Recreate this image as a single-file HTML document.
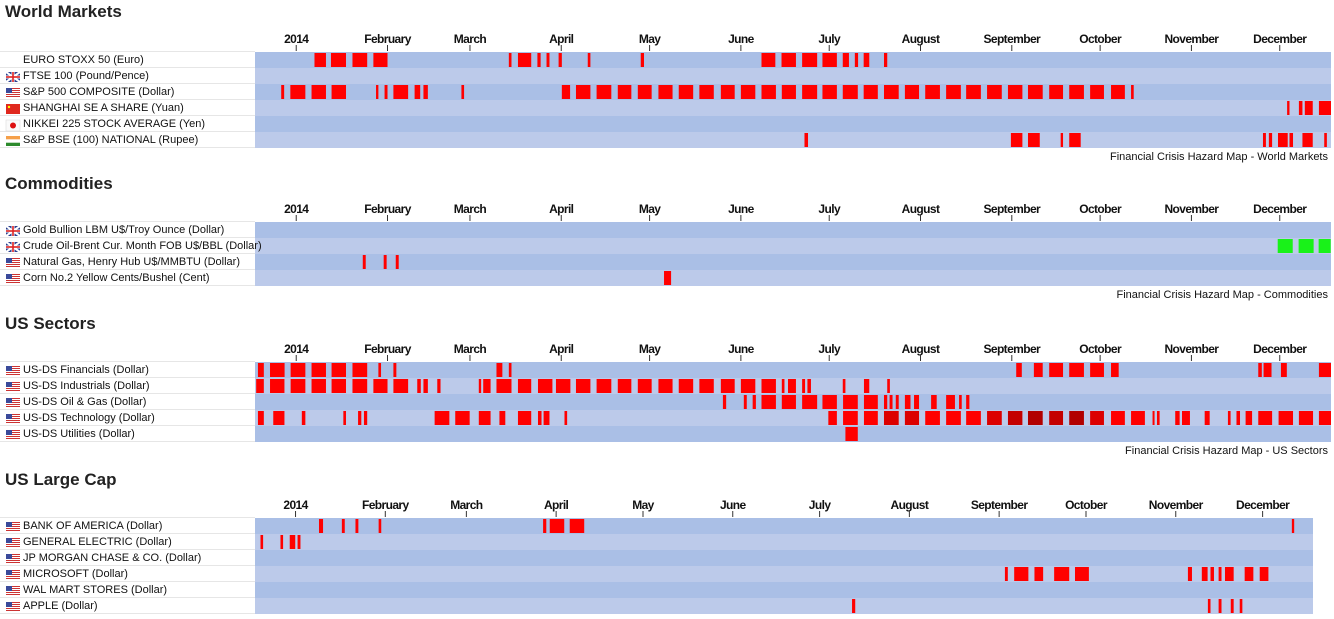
<!DOCTYPE html>
<html><head><meta charset="utf-8"><style>
html,body{margin:0;padding:0;background:#fff;width:1334px;height:619px;overflow:hidden}
svg{display:block;font-family:"Liberation Sans",Arial,sans-serif}
</style></head><body>
<svg id="chart" width="1334" height="619"></svg>
<script>
// ---- axis tick data ----
const monthTicks = [0,31,59,90,120,151,181,212,243,273,304,334];
const monthLabels = ["2014","February","March","April","May","June","July","August","September","October","November","December"];
const dayDomain = [-14, 351.4];

// ---- World Markets ----
const wmNames = ["EURO STOXX 50 (Euro)","FTSE 100 (Pound/Pence)","S&P 500 COMPOSITE (Dollar)","SHANGHAI SE A SHARE (Yuan)","NIKKEI 225 STOCK AVERAGE (Yen)","S&P BSE (100) NATIONAL (Rupee)"];
const wmFlags = ["none","uk","us","cn","jp","in"];
const wmEuro = [[6.2,10.1],[11.8,16.9],[19.1,24.1],[26.2,31],[72.2,73.1],[75.3,79.8],[81.9,83],[85,86],[89.1,90.2],[99,99.9],[117,118.1],[158,162.7],[164.8,169.7],[171.8,176.9],[178.7,183.6],[185.6,187.7],[189.7,190.8],[192.7,194.6],[199.6,200.7]];
const wmFtse = [];
const wmSp500 = [[-5.1,-4.1],[-2,3.1],[5.2,10.1],[12,16.9],[27.1,27.9],[30,31],[33,38],[40.2,42.1],[43.2,44.7],[56.1,57],[90.2,93],[95,99.9],[102,107],[109.2,113.8],[116,120.7],[123,127.8],[129.9,134.8],[136.9,141.8],[144.2,148.9],[151,155.9],[158,162.9],[164.9,169.7],[171.8,176.9],[178.7,183.6],[185.6,190.7],[192.7,197.5],[199.6,204.6],[206.7,211.5],[213.6,218.6],[220.7,225.7],[227.5,232.5],[234.6,239.6],[241.7,246.6],[248.5,253.5],[255.7,260.4],[262.5,267.5],[269.6,274.3],[276.7,281.4],[283.5,284.4]];
const wmShanghai = [[336.5,337.3],[340.5,341.7],[342.5,345.2],[347.3,351.5]];
const wmNikkei = [];
const wmBse = [[172.6,173.8],[242.7,246.6],[248.5,252.5],[259.6,260.4],[262.5,266.4],[328.3,329.3],[330.3,331.4],[333.4,336.7],[337.3,338.5],[341.7,345.2],[349.1,350]];

// ---- Commodities ----
const coNames = ["Gold Bullion LBM U$/Troy Ounce (Dollar)","Crude Oil-Brent Cur. Month FOB U$/BBL (Dollar)","Natural Gas, Henry Hub U$/MMBTU (Dollar)","Corn No.2 Yellow Cents/Bushel (Cent)"];
const coFlags = ["uk","uk","us","us"];
const coGold = [];
const coCrude = [[333.3,338.4],[340.4,345.5],[347.2,351.3]];
const coGas = [[22.6,23.6],[29.7,30.7],[33.8,34.8]];
const coCorn = [[124.9,127.3]];

// ---- US Sectors ----
const usNames = ["US-DS Financials (Dollar)","US-DS Industrials (Dollar)","US-DS Oil & Gas (Dollar)","US-DS Technology (Dollar)","US-DS Utilities (Dollar)"];
const usFlags = ["us","us","us","us","us"];
const usFin = [[-13,-11],[-8.9,-3.95],[-1.9,3.1],[5.2,10.1],[12,16.9],[19.1,24.1],[27.9,28.8],[33,34],[68,70],[72.2,73.1],[244.5,246.4],[250.5,253.5],[255.7,260.4],[262.5,267.5],[269.6,274.3],[276.7,279.3],[326.7,327.9],[328.5,331.2],[334.4,336.4],[347.3,351.5]];
const usInd = [[-13.6,-11],[-8.9,-4],[-1.9,3.1],[5.2,10.1],[12,16.9],[19.1,24.1],[26.2,31],[33,38],[41.1,42.3],[43.2,44.7],[47.9,49],[62,62.8],[63.5,66],[68,73.1],[75.3,79.8],[82.1,87],[88.2,93.1],[95,99.9],[102,107],[109.2,113.8],[116,120.7],[123,127.8],[129.9,134.8],[136.9,141.8],[144.2,148.9],[151,155.9],[158,162.9],[164.9,165.8],[167,169.7],[171.8,172.8],[173.6,174.8],[185.6,186.5],[192.8,194.6],[200.7,201.6]];
const usOil = [[144.9,146],[152,153],[155,156.1],[158,162.9],[164.9,169.7],[171.8,176.9],[178.7,183.6],[185.7,190.7],[192.8,197.5],[199.6,200.7],[201.5,202.5],[203.6,204.6],[206.7,208.6],[209.8,211.5],[215.6,217.5],[220.7,223.7],[225.1,226],[227.5,228.6]];
const usTech = [[-13,-11],[-7.8,-4],[1.9,3.1],[16,16.9],[21,22.1],[23,24.1],[47,52],[54,58.9],[62,66],[69,71],[75.3,79.8],[82.1,83.3],[84,86],[91.1,92],[180.7,183.6],[185.7,190.7],[192.8,197.5],[199.6,204.6],[206.7,211.5],[213.6,218.6],[220.7,225.7],[227.5,232.5],[234.6,239.6],[241.7,246.6],[248.5,253.5],[255.7,260.4],[262.5,267.5],[269.6,274.3],[276.7,281.4],[283.5,288.2],[290.8,291.4],[292.3,293.2],[298.5,300],[300.8,303.5],[308.5,310.2],[316.4,317.3],[319.3,320.5],[322.4,324.6],[326.7,331.4],[333.6,338.5],[340.5,345.3],[347.3,351.5]];
const usTechLevel = [1,1,1,1,1,1,1,1,1,1,1,1,1,1,1,1,1,2,2,1,1,1,2,3,4,3,4,2,1,1,1,1,1,1,1,1,1,1,1,1,1,1];
const usUtil = [[186.5,190.7]];

// ---- US Large Cap ----
const lcNames = ["BANK OF AMERICA (Dollar)","GENERAL ELECTRIC (Dollar)","JP MORGAN CHASE & CO. (Dollar)","MICROSOFT (Dollar)","WAL MART STORES (Dollar)","APPLE (Dollar)"];
const lcFlags = ["us","us","us","us","us","us"];
const lcBac = [[8.1,9.5],[16,17],[20.7,21.7],[28.7,29.6],[85.5,86.6],[87.8,92.8],[94.7,99.7],[344.1,344.9]];
const lcGe = [[-12.1,-11.2],[-5.2,-4.3],[-2,-0.1],[0.7,1.7]];
const lcJpm = [];
const lcMsft = [[245,246],[248.2,253.1],[255.2,258.2],[262,267.2],[269.2,274],[308.2,309.6],[313,315],[316,317.2],[318.8,319.8],[321,324],[327.8,330.8],[333,336]];
const lcWmt = [];
const lcAapl = [[192.2,193.3],[315.1,316],[318.8,319.8],[323,324],[326.1,327]];

const NS = "http://www.w3.org/2000/svg";
const svg = document.getElementById('chart');
function mk(tag, attrs, parent){ const e=document.createElementNS(NS,tag); for(const k in attrs) e.setAttribute(k,attrs[k]); (parent||svg).appendChild(e); return e; }
function slug(s){ return s.toLowerCase().replace(/[^a-z0-9]+/g,'-').replace(/^-|-$/g,''); }

function flag(g, type, x, y){
  if(type==='none') return;
  const f = mk('g',{transform:`translate(${x},${y})`},g);
  
  
  if(type==='uk'){
    mk('rect',{x:0,y:0,width:14,height:10,fill:'#2a3f8f'},f);
    mk('path',{d:'M0 0L14 10M14 0L0 10',stroke:'#fff','stroke-width':2},f);
    mk('rect',{x:5.5,y:0,width:3,height:10,fill:'#fff'},f);
    mk('rect',{x:0,y:3.5,width:14,height:3,fill:'#fff'},f);
    mk('rect',{x:6.2,y:0,width:1.6,height:10,fill:'#d22'},f);
    mk('rect',{x:0,y:4.2,width:14,height:1.6,fill:'#d22'},f);
  } else if(type==='us'){
    mk('rect',{x:0,y:0,width:14,height:10,fill:'#fff'},f);
    for(let i=0;i<5;i++) mk('rect',{x:0,y:i*2,width:14,height:1,fill:'#c33'},f);
    mk('rect',{x:0,y:0,width:6,height:5,fill:'#3a4a9a'},f);
  } else if(type==='cn'){
    mk('rect',{x:0,y:0,width:14,height:10,fill:'#e0281e'},f);
    mk('circle',{cx:3,cy:3,r:1.2,fill:'#ff0'},f);
  } else if(type==='jp'){
    mk('rect',{x:0,y:0,width:14,height:11,fill:'#fafafa',stroke:'#ddd','stroke-width':0.6},f);
    mk('circle',{cx:7,cy:5.5,r:3,fill:'#d11'},f);
  } else if(type==='in'){
    mk('rect',{x:0,y:0,width:14,height:3.4,fill:'#f5a04a'},f);
    mk('rect',{x:0,y:3.4,width:14,height:3.3,fill:'#fff'},f);
    mk('rect',{x:0,y:6.7,width:14,height:3.3,fill:'#2c8a2c'},f);
  }
}

function levelColor(v){ return ['#ff0000','#ff0000','#dc0000','#c40000','#b20000'][v]||'#ff0000'; }

function panel(opts){
  const g = mk('g',{});
  
  
  const x0=255, x1=opts.right;
  const xs = d => x0 + (d-dayDomain[0])/(dayDomain[1]-dayDomain[0])*(x1-x0);
  const t = mk('text',{x:5,y:opts.titleY,'font-size':17,'font-weight':'bold',fill:'#222'},g);
  t.textContent = opts.title;
  
  
  const rowTop = opts.rowY, rh=16;
  // ticks
  monthTicks.forEach((d,i)=>{
    const x = xs(d);
    const lab = mk('text',{x:x,y:rowTop-9,'font-size':12,'font-weight':'bold','text-anchor':i===0?'middle':'start',fill:'#111','letter-spacing':'-0.6'},g);
    lab.textContent = monthLabels[i];
    
    
    if(i>0){ const w = lab.getComputedTextLength(); lab.setAttribute('x', x - w/2 + (opts.labShift||0)); }
    const tk = mk('line',{x1:x,x2:x,y1:rowTop-7,y2:rowTop-1,stroke:'#333','stroke-width':1},g);
    
    
  });
  mk('line',{x1:0,x2:x0,y1:rowTop-0.5,y2:rowTop-0.5,stroke:'#e6e6e6'},g);
  opts.rows.forEach((bars,r)=>{
    const y = rowTop + r*rh;
    const band = mk('rect',{x:x0,y:y,width:x1-x0,height:rh,fill:r%2?'#bccaea':'#aabfe6'},g);
    
    
    mk('line',{x1:0,x2:x0,y1:y+rh-0.5,y2:y+rh-0.5,stroke:'#e6e6e6'},g);
    flag(g, opts.flags[r], 6, y+4);
    const lt = mk('text',{x:23,y:y+11,'font-size':11,fill:'#111'},g);
    lt.textContent = opts.names[r];
    
    
    bars.forEach((b,k)=>{
      const bx = Math.max(xs(b[0]), x0), bw = Math.min(xs(b[1]), x1) - bx;
      const lv = opts.levels && opts.levels[r] ? opts.levels[r][k] : 1;
      const rc = mk('rect',{x:bx,y:y+1,width:Math.max(bw,2),height:rh-2,fill:opts.color && opts.color[r] ? opts.color[r] : levelColor(lv)},g);
      
      
    });
  });
  if(opts.foot){
    const ft = mk('text',{x:1328,y:rowTop+opts.rows.length*rh+12,'font-size':11,'text-anchor':'end',fill:'#111'},g);
    ft.textContent = opts.foot;
    
    
  }
}

panel({id:'world-markets',title:'World Markets',titleY:17,rowY:52,right:1331,names:wmNames,flags:wmFlags,
  rows:[wmEuro,wmFtse,wmSp500,wmShanghai,wmNikkei,wmBse],foot:'Financial Crisis Hazard Map - World Markets'});
panel({id:'commodities',title:'Commodities',titleY:189,rowY:222,right:1331,names:coNames,flags:coFlags,
  rows:[coGold,coCrude,coGas,coCorn],color:[null,'#19f219',null,null],foot:'Financial Crisis Hazard Map - Commodities'});
panel({id:'us-sectors',title:'US Sectors',titleY:329,rowY:362,right:1331,names:usNames,flags:usFlags,
  rows:[usFin,usInd,usOil,usTech,usUtil],levels:[null,null,null,usTechLevel,null],foot:'Financial Crisis Hazard Map - US Sectors'});
panel({id:'us-large-cap',title:'US Large Cap',titleY:485,rowY:518,right:1313,names:lcNames,flags:lcFlags,
  rows:[lcBac,lcGe,lcJpm,lcMsft,lcWmt,lcAapl]});
</script>
</body></html>
